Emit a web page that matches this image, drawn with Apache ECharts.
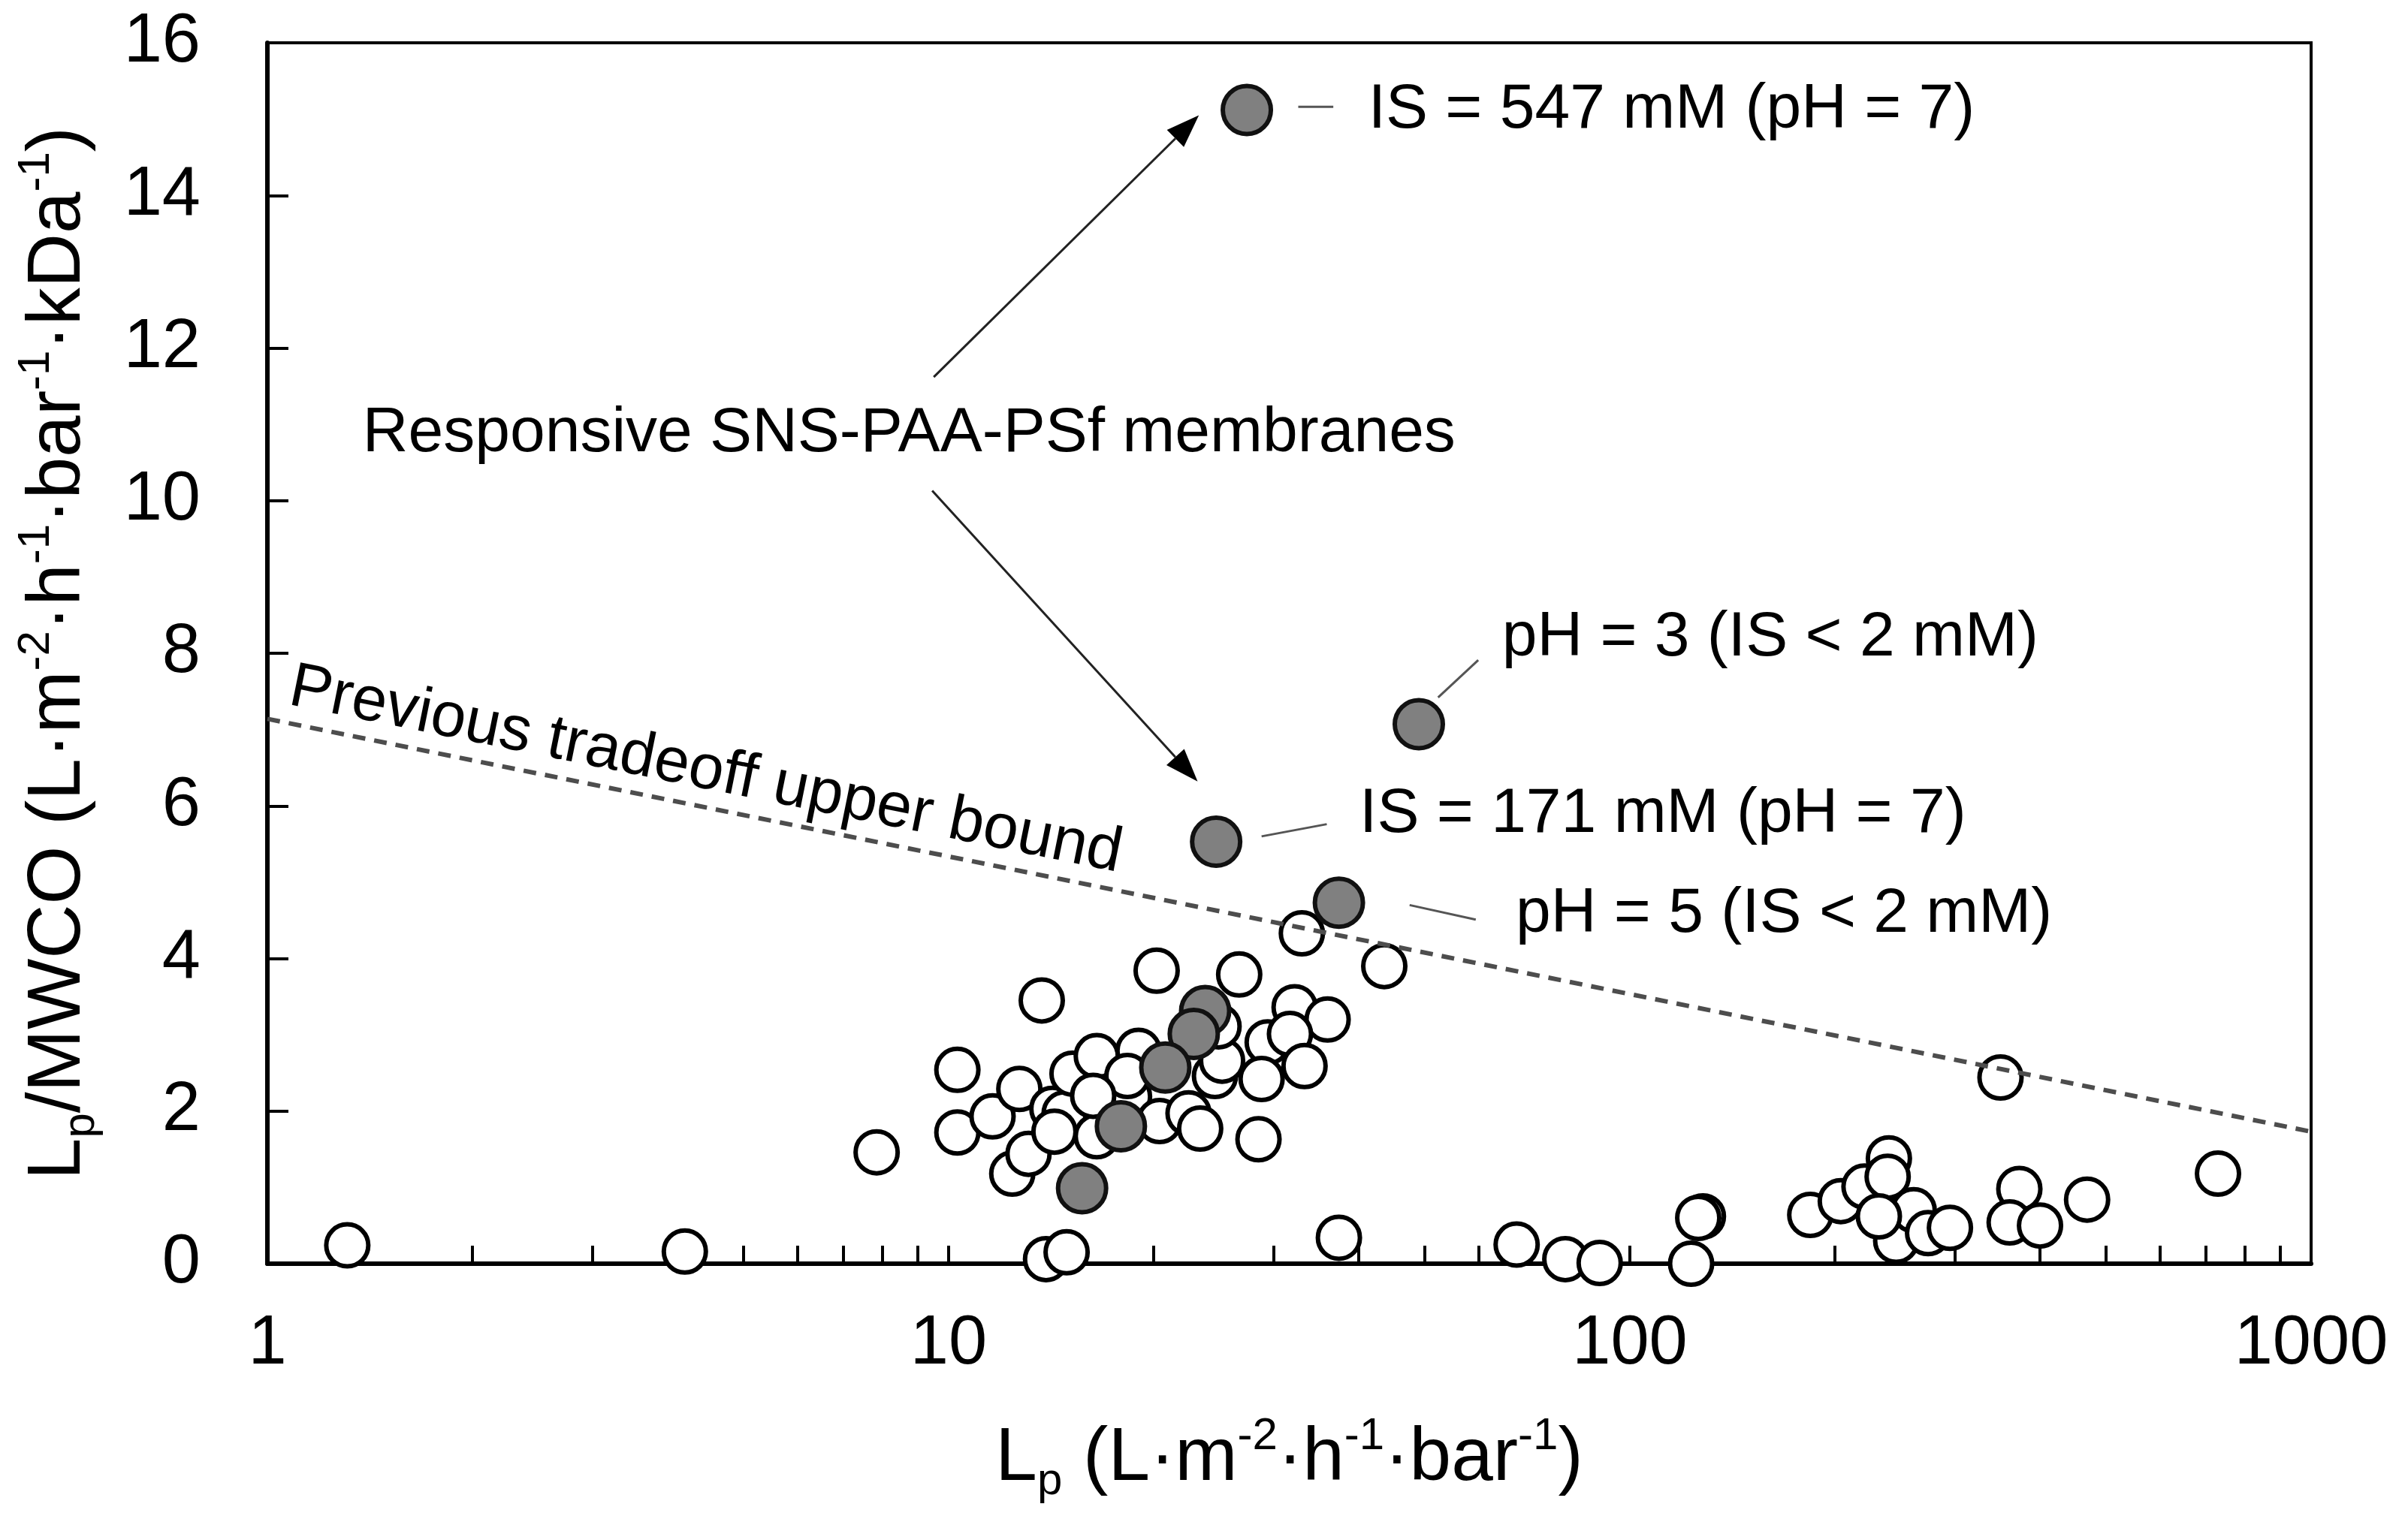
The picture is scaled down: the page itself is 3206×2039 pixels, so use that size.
<!DOCTYPE html>
<html><head><meta charset="utf-8">
<script src="https://cdn.jsdelivr.net/npm/echarts@6/dist/echarts.min.js"></script>
<style>html,body{margin:0;padding:0;background:#fff}#c{width:3206px;height:2039px}</style>
</head><body><div id="c"></div>
<script>
// ---- data ----
const xTickLabels = [1, 10, 100, 1000];
const yTickLabels = [0, 2, 4, 6, 8, 10, 12, 14, 16];
const xTickPositions = [1,2,3,4,5,6,7,8,9,10,20,30,40,50,60,70,80,90,100,200,300,400,500,600,700,800,900,1000];

// previous membranes (open circles)
const prevLp = [1.31, 4.10, 7.84, 10.3, 10.3, 11.6, 12.7, 13.7, 12.4, 13.1, 14.2, 14.8, 14.3, 15.2, 16.5, 16.5, 13.9, 14.9, 18.4, 19.0, 20.4, 20.2, 26.7, 33.0, 43.6, 32.2, 36.0, 29.4, 31.7, 33.3, 28.8, 28.5, 22.5, 23.4, 24.6, 25.2, 24.9, 18.3, 16.3, 37.4, 68.2, 80.4, 90.3, 128, 126, 123, 184, 204, 221, 240, 239, 246, 261, 274, 295, 232, 350, 373, 361, 400, 469, 730];
const prevLpMwco = [0.24, 0.16, 1.46, 2.54, 1.72, 1.93, 2.29, 3.45, 1.18, 1.44, 2.03, 1.97, 1.73, 2.49, 2.72, 1.67, 0.06, 0.15, 2.19, 2.79, 1.87, 3.84, 3.79, 4.33, 3.90, 3.36, 3.20, 2.90, 3.01, 2.59, 2.42, 1.63, 1.97, 1.77, 2.46, 2.66, 3.11, 2.46, 2.20, 0.34, 0.25, 0.06, 0.01, 0.62, 0.60, 0.00, 0.64, 0.82, 1.01, 1.38, 1.14, 0.30, 0.70, 0.40, 0.47, 0.62, 2.44, 0.98, 0.54, 0.50, 0.84, 1.18];

// responsive SNS-PAA-PSf membranes (grey circles)
const snsLp = [27.4, 49.0, 24.7, 37.4, 23.8, 22.9, 20.8, 17.9, 15.7];
const snsLpMwco = [15.12, 7.07, 5.53, 4.73, 3.31, 3.01, 2.57, 1.80, 0.99];

// previous tradeoff upper bound (dashed line)
const boundLp = [1, 1000];
const boundLpMwco = [7.14, 1.73];

// annotations (data coordinates)
const arrowList = [
  {from: [9.51, 11.62], to: [23.3, 15.05]},
  {from: [9.46, 10.13], to: [23.2, 6.32]}
];
const leaderList = [
  [[32.6, 15.16], [36.7, 15.16]],
  [[52.3, 7.42], [59.9, 7.91]],
  [[28.8, 5.60], [35.9, 5.76]],
  [[47.5, 4.70], [59.4, 4.51]]
];
const labelList = [
  {text: 'IS = 547 mM (pH = 7)', at: [41.3, 15.12]},
  {text: 'pH = 3 (IS < 2 mM)', at: [64.9, 8.20]},
  {text: 'IS = 171 mM (pH = 7)', at: [40.1, 5.89]},
  {text: 'pH = 5 (IS < 2 mM)', at: [68.0, 4.58]},
  {text: 'Responsive SNS-PAA-PSf membranes', at: [1.38, 10.87]}
];
const boundLabel = {text: 'Previous tradeoff upper bound', at: [4.40, 6.46]};

// ---- chart ----
const FONT = '"Liberation Sans", Arial, Helvetica, sans-serif';
const zip = (a, b) => a.map((v, i) => [v, b[i]]);
const chart = echarts.init(document.getElementById('c'), null, {renderer: 'canvas'});

const nameRich = {
  t: {fontSize: 100, lineHeight: 120, fontFamily: FONT, color: '#000'},
  sup: {fontSize: 60, lineHeight: 60, fontFamily: FONT, color: '#000', verticalAlign: 'top'},
  sub: {fontSize: 60, lineHeight: 60, fontFamily: FONT, color: '#000', verticalAlign: 'bottom'}
};

const option = {
  animation: false,
  backgroundColor: '#fff',
  grid: {left: 356, right: 129, top: 57, bottom: 356, show: true, borderColor: '#000', borderWidth: 4, backgroundColor: 'transparent', containLabel: false},
  xAxis: {
    type: 'log', logBase: 10, min: 1, max: 1000,
    axisLine: {show: true, onZero: false, lineStyle: {color: '#000', width: 6}},
    axisTick: {show: true, inside: true, length: 24, lineStyle: {color: '#000', width: 4}, customValues: xTickPositions},
    axisLabel: {show: true, fontSize: 92, fontFamily: FONT, color: '#000', margin: 62, customValues: xTickLabels, formatter: v => String(Math.round(v))},
    splitLine: {show: false},
    minorTick: {show: false},
    name: '{t|L}{sub|p}{t| (L·m}{sup|-2}{t|·h}{sup|-1}{t|·bar}{sup|-1}{t|)}',
    nameLocation: 'middle', nameGap: 200,
    nameTextStyle: {rich: nameRich}
  },
  yAxis: {
    type: 'value', min: 0, max: 16, interval: 2,
    axisLine: {show: true, lineStyle: {color: '#000', width: 6}},
    axisTick: {show: true, inside: true, length: 28, lineStyle: {color: '#000', width: 4}},
    axisLabel: {show: true, fontSize: 92, fontFamily: FONT, color: '#000', margin: 89, customValues: yTickLabels},
    splitLine: {show: false},
    name: '{t|L}{sub|p}{t|/MWCO (L·m}{sup|-2}{t|·h}{sup|-1}{t|·bar}{sup|-1}{t|·kDa}{sup|-1}{t|)}',
    nameLocation: 'middle', nameRotate: 90, nameGap: 218,
    nameTextStyle: {rich: nameRich}
  },
  series: [
    {
      name: 'previous', type: 'scatter', data: zip(prevLp, prevLpMwco), clip: false, z: 2,
      symbol: 'circle', symbolSize: 56,
      itemStyle: {color: '#fff', borderColor: '#000', borderWidth: 6, opacity: 1},
      emphasis: {disabled: true}
    },
    {
      name: 'bound', type: 'line', data: zip(boundLp, boundLpMwco), z: 3,
      symbol: 'none', showSymbol: false,
      lineStyle: {color: '#4d4d4d', width: 6, type: [17, 12]},
      emphasis: {disabled: true}
    },
    {
      name: 'sns', type: 'scatter', data: zip(snsLp, snsLpMwco), clip: false, z: 4,
      symbol: 'circle', symbolSize: 64,
      itemStyle: {color: '#808080', borderColor: '#111', borderWidth: 6, opacity: 1},
      emphasis: {disabled: true}
    }
  ]
};
chart.setOption(option);

function px(p) { return chart.convertToPixel({gridIndex: 0}, p); }
const g = [];
// arrows
arrowList.forEach(a => {
  const s = px(a.from), t = px(a.to);
  const dx = t[0] - s[0], dy = t[1] - s[1];
  const len = Math.hypot(dx, dy);
  const ux = dx / len, uy = dy / len, nx = -uy, ny = ux;
  const L = 44, W = 16;
  const bx = t[0] - ux * L, by = t[1] - uy * L;
  g.push({type: 'line', z: 10, shape: {x1: s[0], y1: s[1], x2: bx, y2: by}, style: {stroke: '#222', lineWidth: 3}});
  g.push({type: 'polygon', z: 10, shape: {points: [[t[0], t[1]], [bx + nx * W, by + ny * W], [bx - nx * W, by - ny * W]]}, style: {fill: '#000'}});
});
leaderList.forEach(l => {
  const a = px(l[0]), b = px(l[1]);
  g.push({type: 'line', z: 10, shape: {x1: a[0], y1: a[1], x2: b[0], y2: b[1]}, style: {stroke: '#555', lineWidth: 3}});
});
labelList.forEach(l => {
  const p = px(l.at);
  g.push({type: 'text', z: 10, x: p[0], y: p[1], style: {text: l.text, fontSize: 84, fontFamily: FONT, fill: '#000', align: 'left', verticalAlign: 'middle'}});
});
{
  const a = px([boundLp[0], boundLpMwco[0]]), b = px([boundLp[1], boundLpMwco[1]]);
  const ang = Math.atan2(b[1] - a[1], b[0] - a[0]);
  const p = px(boundLabel.at);
  g.push({type: 'text', z: 10, x: p[0], y: p[1], rotation: -ang, style: {text: boundLabel.text, fontSize: 84, fontFamily: FONT, fill: '#000', align: 'center', verticalAlign: 'middle'}});
}
chart.setOption({graphic: g});
</script>
</body></html>
